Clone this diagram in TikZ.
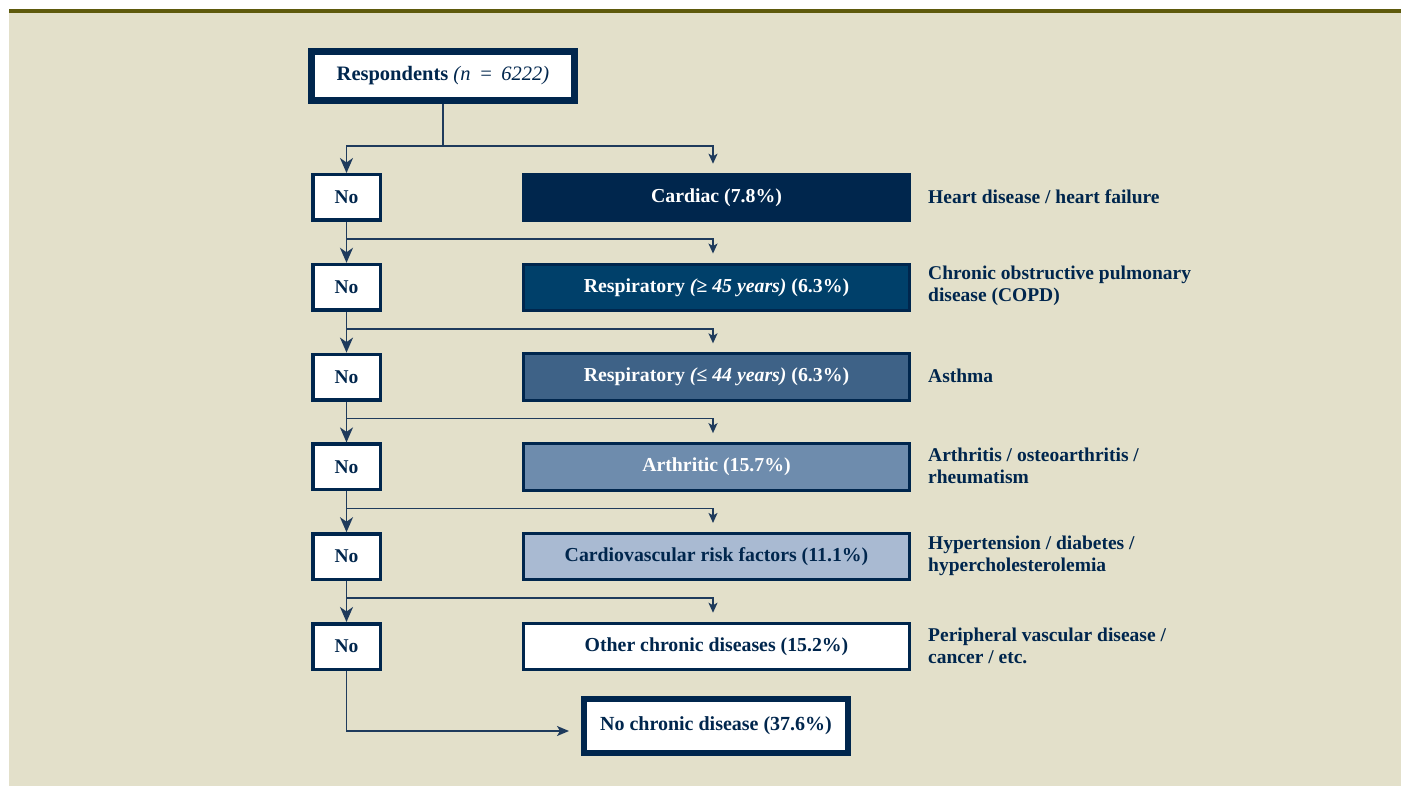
\documentclass[tikz,border=0pt]{standalone}
\usepackage{fontspec}
\setmainfont{Liberation Serif}
\usetikzlibrary{arrows.meta,calc}
\definecolor{bg}{HTML}{E3E0CA}
\definecolor{olive}{HTML}{5E5A0C}
\definecolor{navy}{HTML}{00264D}
\definecolor{resA}{HTML}{00406A}
\definecolor{resB}{HTML}{3E6287}
\definecolor{arth}{HTML}{6E8CAD}
\definecolor{cvr}{HTML}{A9BAD2}
\definecolor{conn}{HTML}{1F3B5C}
\begin{document}
\begin{tikzpicture}[x=1pt,y=-1pt,
  txt/.style={font=\fontsize{19.5}{22}\selectfont\bfseries, text=navy, inner sep=0pt},
  respbox/.style={txt, font=\fontsize{20.5}{24}\selectfont\bfseries, draw=navy, fill=white, line width=7pt, minimum width=263pt, minimum height=49pt},
  nobox/.style={txt, draw=navy, fill=white, line width=3.5pt, minimum width=67.5pt, minimum height=45.5pt},
  catbox/.style={txt, font=\fontsize{19.8}{22}\selectfont\bfseries, draw=navy, line width=3pt, minimum width=386pt, minimum height=46.5pt},
  finbox/.style={txt, font=\fontsize{20}{22}\selectfont\bfseries, draw=navy, fill=white, line width=6pt, minimum width=264pt, minimum height=54pt},
  lbl/.style={txt, anchor=west, align=left},
  conline/.style={draw=conn, line width=1.6pt},
  bigtip/.style={-{Stealth[length=15pt,width=13pt,inset=4.5pt]}},
  smalltip/.style={-{Stealth[length=10pt,width=9pt,inset=2.5pt]}},
  midtip/.style={-{Stealth[length=12pt,width=10pt,inset=3pt]}}
]
\useasboundingbox (0,0) rectangle (1401,786);
\fill[white] (0,0) rectangle (1401,786);
\fill[bg] (9,13.5) rectangle (1401,786);
\fill[olive] (9,9.5) rectangle (1401,13.5);

% top node
\node[respbox] (resp) at (443,76) {Respondents {\mdseries\itshape (n\, =\, 6222)}};

% No boxes
\node[nobox] (no1) at (346.5,197.5) {No};
\node[nobox] (no2) at (346.5,287.3) {No};
\node[nobox] (no3) at (346.5,377.1) {No};
\node[nobox] (no4) at (346.5,466.9) {No};
\node[nobox] (no5) at (346.5,556.7) {No};
\node[nobox] (no6) at (346.5,646.5) {No};

% categories
\node[catbox, fill=navy, text=white] (c1) at (716.5,197.5) {Cardiac (7.8\%)};
\node[catbox, fill=resA, text=white] (c2) at (716.5,287.3) {Respiratory {\itshape (≥ 45 years)} (6.3\%)};
\node[catbox, fill=resB, text=white] (c3) at (716.5,377.1) {Respiratory {\itshape (≤ 44 years)} (6.3\%)};
\node[catbox, fill=arth, text=white] (c4) at (716.5,466.9) {Arthritic (15.7\%)};
\node[catbox, fill=cvr] (c5) at (716.5,556.7) {Cardiovascular risk factors (11.1\%)};
\node[catbox, fill=white] (c6) at (716.5,646.5) {Other chronic diseases (15.2\%)};

% final
\node[finbox] (fin) at (716,726) {No chronic disease (37.6\%)};

% labels
\node[lbl] (l1) at (928,196.5) {Heart disease / heart failure};
\node[lbl] (l2) at (928,286.3) {Chronic obstructive pulmonary\\disease (COPD)};
\node[lbl] (l3) at (928,376.1) {Asthma};
\node[lbl] (l4) at (928,465.9) {Arthritis / osteoarthritis /\\rheumatism};
\node[lbl] (l5) at (928,555.7) {Hypertension / diabetes /\\hypercholesterolemia};
\node[lbl] (l6) at (928,645.5) {Peripheral vascular disease /\\cancer / etc.};

% connectors
\coordinate (j0) at (443,146);
\draw[conline] (resp.south) -- (j0);
\draw[conline, bigtip] (j0) -| (no1.north);
\draw[conline, smalltip] (j0) -| ($(c1.north)+(-3.5,-9)$);

\foreach \a/\b in {1/2,2/3,3/4,4/5,5/6}{
  \draw[conline, bigtip] (no\a.south) -- (no\b.north);
  \draw[conline, smalltip] ($(no\a.south)+(0,17)$) -| ($(c\b.north)+(-3.5,-9)$);
}

\draw[conline, midtip] (no6.south) |- ($(fin.west)+(-12,5)$);
\end{tikzpicture}
\end{document}
